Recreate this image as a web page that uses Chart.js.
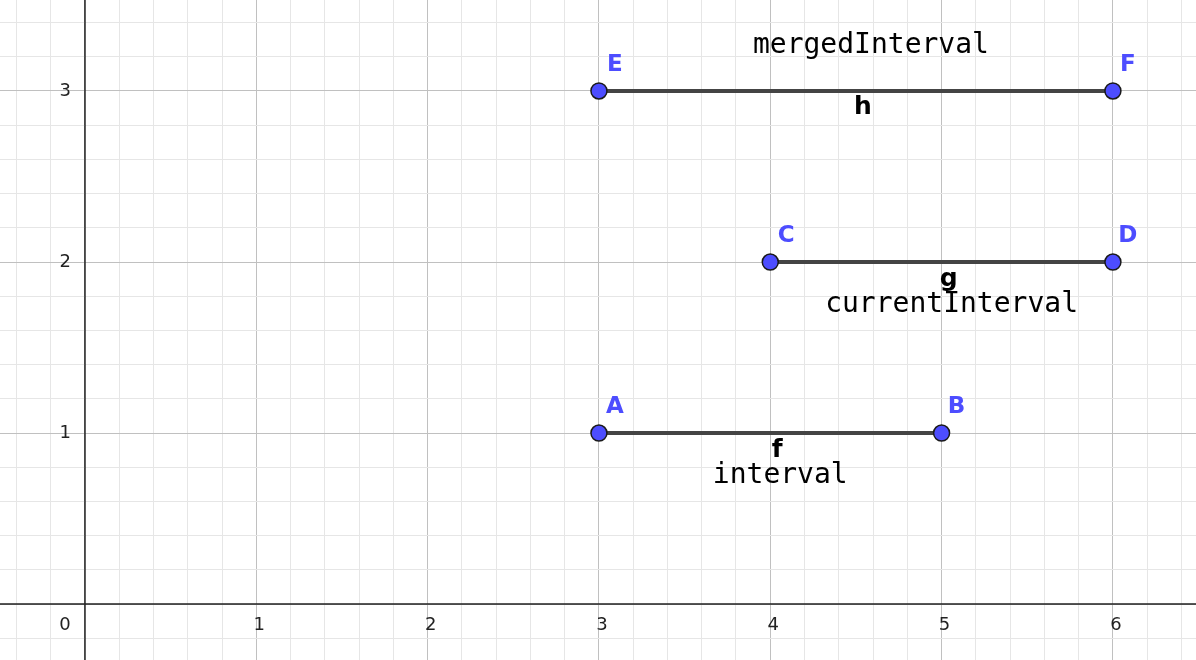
<!DOCTYPE html>
<html>
<head>
<meta charset="utf-8">
<script src="https://cdn.jsdelivr.net/npm/chart.js@4.4.1/dist/chart.umd.min.js"></script>
<style>
  html, body { margin: 0; padding: 0; background: #fff; }
  #wrap { width: 1196px; height: 660px; }
</style>
</head>
<body>
<div id="wrap"><canvas id="plot"></canvas></div>
<script>
// Segments f, g, h with endpoints.
const segmentNames = ['f', 'g', 'h'];
const segmentCaptions = ['interval', 'currentInterval', 'mergedInterval'];
const startNames = ['A', 'C', 'E'];
const endNames = ['B', 'D', 'F'];
const startX = [3, 4, 3];
const endX = [5, 6, 6];
const levelY = [1, 2, 3];

const xTickLabels = ['0', '1', '2', '3', '4', '5', '6'];
const yTickLabels = ['1', '2', '3'];

const X_MIN = -0.496, X_MAX = 6.485;
const Y_MIN = -0.327, Y_MAX = 3.532;

const POINT_COLOR = '#4d4dff';
const SEGMENT_COLOR = '#444444';
const MINOR_GRID = '#e6e6e6';
const MAJOR_GRID = '#c0c0c0';

const isMajor = (v) => Math.abs(v - Math.round(v)) < 1e-6;

const datasets = segmentNames.map((name, i) => ({
  label: name,
  data: [{ x: startX[i], y: levelY[i] }, { x: endX[i], y: levelY[i] }],
  borderColor: SEGMENT_COLOR,
  borderWidth: 4,
  pointRadius: 8,
  pointBackgroundColor: POINT_COLOR,
  pointBorderColor: '#1a1a1a',
  pointBorderWidth: 1.5,
  showLine: true,
  clip: false,
}));

const overlay = {
  id: 'overlay',
  beforeDatasetsDraw(chart) {
    const { ctx, scales: { x, y } } = chart;
    ctx.save();
    ctx.strokeStyle = '#222';
    ctx.lineWidth = 1.5;
    ctx.beginPath();
    ctx.moveTo(x.left, y.getPixelForValue(0));
    ctx.lineTo(x.right, y.getPixelForValue(0));
    ctx.moveTo(x.getPixelForValue(0), y.top);
    ctx.lineTo(x.getPixelForValue(0), y.bottom);
    ctx.stroke();

    ctx.fillStyle = '#222';
    ctx.font = '500 18px "DejaVu Sans"';
    ctx.textAlign = 'center';
    ctx.textBaseline = 'middle';
    xTickLabels.forEach((t) => {
      const px = x.getPixelForValue(Number(t));
      ctx.fillText(t, t === '0' ? px - 20 : px + 3, y.getPixelForValue(0) + 21);
    });
    ctx.textAlign = 'right';
    yTickLabels.forEach((t) => {
      ctx.fillText(t, x.getPixelForValue(0) - 14, y.getPixelForValue(Number(t)));
    });
    ctx.restore();
  },
  afterDatasetsDraw(chart) {
    const { ctx, scales: { x, y } } = chart;
    ctx.save();
    ctx.textAlign = 'center';
    ctx.textBaseline = 'middle';
    segmentNames.forEach((name, i) => {
      const py = y.getPixelForValue(levelY[i]);
      const x1 = x.getPixelForValue(startX[i]);
      const x2 = x.getPixelForValue(endX[i]);
      const mid = (x1 + x2) / 2;

      ctx.fillStyle = POINT_COLOR;
      ctx.font = 'bold 23px "DejaVu Sans"';
      ctx.fillText(startNames[i], x1 + 16, py - 26);
      ctx.fillText(endNames[i], x2 + 15, py - 26);

      ctx.fillStyle = '#000';
      ctx.font = 'bold 25px "DejaVu Sans"';
      ctx.fillText(name, mid + 7, py + 17);

      ctx.font = '28px "DejaVu Sans Mono"';
      if (name === 'h') ctx.fillText(segmentCaptions[i], mid + 15, py - 45);
      else ctx.fillText(segmentCaptions[i], mid + 10, py + 43);
    });
    ctx.restore();
  },
};

new Chart(document.getElementById('plot'), {
  type: 'scatter',
  data: { datasets },
  options: {
    responsive: true,
    maintainAspectRatio: false,
    animation: false,
    layout: { padding: 0, autoPadding: false },
    plugins: { legend: { display: false }, tooltip: { enabled: false } },
    scales: {
      x: {
        type: 'linear', min: X_MIN, max: X_MAX,
        afterBuildTicks: (s) => {
          const ticks = [];
          for (let k = -2; k <= 32; k++) ticks.push({ value: k / 5 });
          s.ticks = ticks;
        },
        ticks: { display: false },
        border: { display: false },
        grid: {
          drawTicks: false,
          color: (c) => isMajor(c.tick.value) ? MAJOR_GRID : MINOR_GRID,
          lineWidth: 1,
        },
      },
      y: {
        type: 'linear', min: Y_MIN, max: Y_MAX,
        afterBuildTicks: (s) => {
          const ticks = [];
          for (let k = -1; k <= 17; k++) ticks.push({ value: k / 5 });
          s.ticks = ticks;
        },
        ticks: { display: false },
        border: { display: false },
        grid: {
          drawTicks: false,
          color: (c) => isMajor(c.tick.value) ? MAJOR_GRID : MINOR_GRID,
          lineWidth: 1,
        },
      },
    },
  },
  plugins: [overlay],
});
</script>
</body>
</html>
